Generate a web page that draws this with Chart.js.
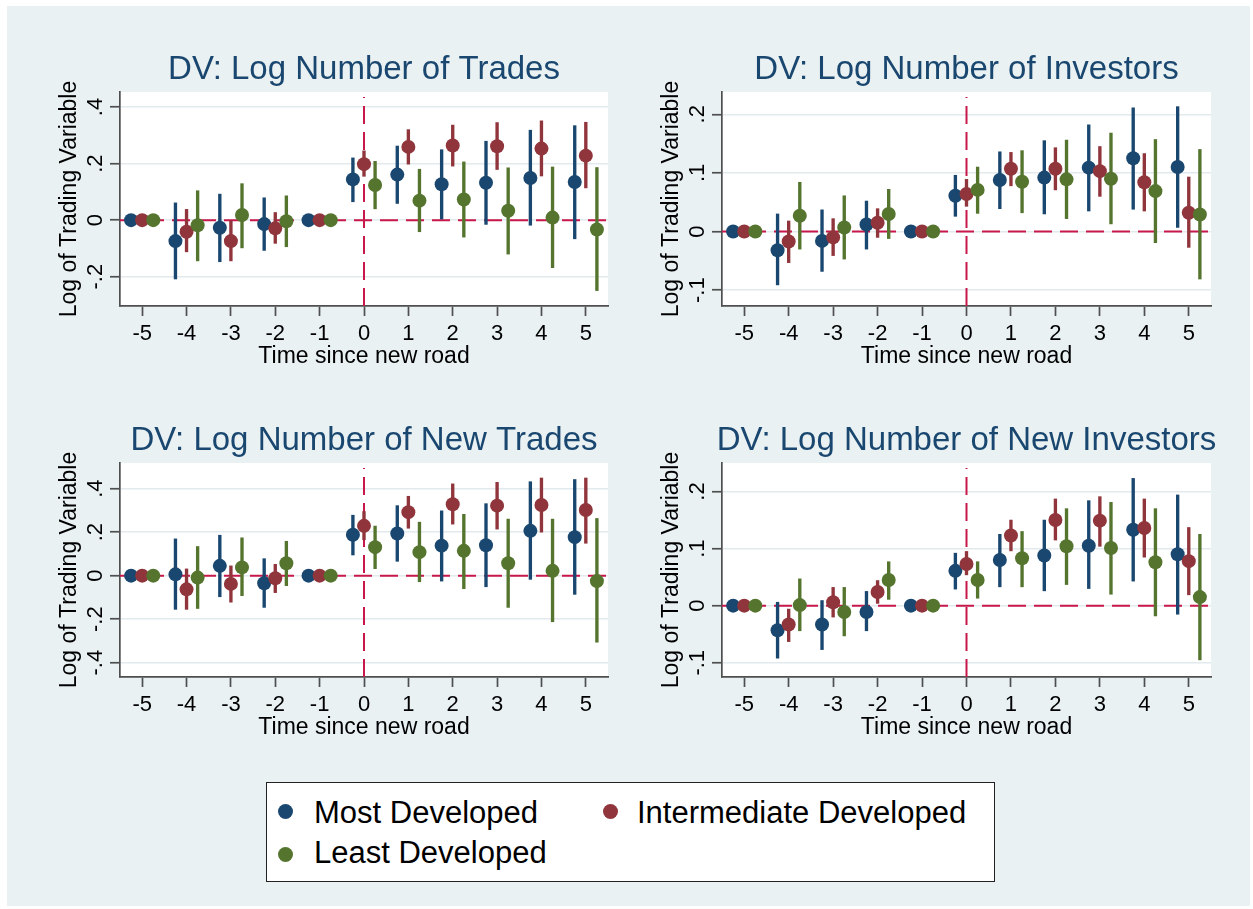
<!DOCTYPE html>
<html>
<head>
<meta charset="utf-8">
<script src="https://cdn.jsdelivr.net/npm/chart.js@4.4.1/dist/chart.umd.min.js"></script>
<style>
  html, body { margin: 0; padding: 0; background: #ffffff; }
  body { width: 1253px; height: 909px; position: relative; overflow: hidden;
         font-family: 'Liberation Sans', Arial, sans-serif; }
  #frame { position: absolute; left: 7px; top: 6px; width: 1243px; height: 900px; background: #e9f1f3; }
  canvas.panel { position: absolute; }
  #legend { position: absolute; left: 266px; top: 782px; width: 727px; height: 98px;
            border: 1.5px solid #222; background: #ffffff; }
  .lg-dot { position: absolute; width: 15px; height: 15px; border-radius: 50%; }
  .lg-text { position: absolute; font-size: 31px; line-height: 31px; color: #000; white-space: nowrap; }
</style>
</head>
<body>
<div id="frame"></div>
<canvas id="pTrades" class="panel"></canvas>
<canvas id="pInvestors" class="panel"></canvas>
<canvas id="pNewTrades" class="panel"></canvas>
<canvas id="pNewInvestors" class="panel"></canvas>
<div id="legend"></div>

<script>
// ---- event time and tick labels ----
const periods = [-5, -4, -3, -2, -1, 0, 1, 2, 3, 4, 5];
const xTickValues = [-5, -4, -3, -2, -1, 0, 1, 2, 3, 4, 5];
const seriesNames = ['Most Developed', 'Intermediate Developed', 'Least Developed'];

const tradesTicks = [-0.2, 0, 0.2, 0.4];
const investorsTicks = [-0.1, 0, 0.1, 0.2];
const newTradesTicks = [-0.4, -0.2, 0, 0.2, 0.4];
const newInvestorsTicks = [-0.1, 0, 0.1, 0.2];

// ---- DV: Log Number of Trades ----
const tradesMost      = [0, -0.074, -0.027, -0.014, 0, 0.144, 0.161, 0.127, 0.132, 0.149, 0.135];
const tradesMostLow   = [null, -0.208, -0.147, -0.107, null, 0.065, 0.059, 0.004, -0.015, -0.018, -0.066];
const tradesMostHigh  = [null, 0.061, 0.092, 0.079, null, 0.220, 0.262, 0.249, 0.279, 0.318, 0.334];
const tradesInter     = [0, -0.041, -0.074, -0.029, 0, 0.198, 0.259, 0.264, 0.261, 0.253, 0.228];
const tradesInterLow  = [null, -0.112, -0.144, -0.082, null, 0.155, 0.198, 0.191, 0.179, 0.156, 0.114];
const tradesInterHigh = [null, 0.038, 0.000, 0.027, null, 0.245, 0.320, 0.336, 0.345, 0.351, 0.346];
const tradesLeast     = [0, -0.018, 0.018, -0.004, 0, 0.124, 0.069, 0.073, 0.033, 0.009, -0.033];
const tradesLeastLow  = [null, -0.144, -0.098, -0.094, null, 0.040, -0.041, -0.060, -0.120, -0.168, -0.249];
const tradesLeastHigh = [null, 0.104, 0.129, 0.086, null, 0.208, 0.180, 0.206, 0.185, 0.188, 0.186];

// ---- DV: Log Number of Investors ----
const investorsMost      = [0, -0.032, -0.016, 0.012, 0, 0.061, 0.088, 0.092, 0.109, 0.125, 0.110];
const investorsMostLow   = [null, -0.091, -0.068, -0.030, null, 0.026, 0.039, 0.030, 0.035, 0.038, 0.007];
const investorsMostHigh  = [null, 0.030, 0.037, 0.052, null, 0.096, 0.136, 0.155, 0.182, 0.211, 0.213];
const investorsInter     = [0, -0.017, -0.010, 0.015, 0, 0.064, 0.107, 0.107, 0.103, 0.084, 0.032];
const investorsInterLow  = [null, -0.053, -0.041, -0.010, null, 0.043, 0.078, 0.071, 0.060, 0.035, -0.027];
const investorsInterHigh = [null, 0.018, 0.022, 0.039, null, 0.089, 0.135, 0.143, 0.145, 0.133, 0.093];
const investorsLeast     = [0, 0.027, 0.007, 0.030, 0, 0.071, 0.085, 0.089, 0.090, 0.069, 0.029];
const investorsLeastLow  = [null, -0.030, -0.047, -0.012, null, 0.031, 0.032, 0.022, 0.013, -0.019, -0.081];
const investorsLeastHigh = [null, 0.084, 0.061, 0.072, null, 0.110, 0.138, 0.156, 0.168, 0.157, 0.140];

// ---- DV: Log Number of New Trades ----
const newTradesMost      = [0, 0.006, 0.045, -0.035, 0, 0.188, 0.194, 0.138, 0.140, 0.206, 0.177];
const newTradesMostLow   = [null, -0.155, -0.097, -0.146, null, 0.095, 0.066, -0.025, -0.051, -0.017, -0.086];
const newTradesMostHigh  = [null, 0.169, 0.186, 0.078, null, 0.278, 0.322, 0.298, 0.331, 0.432, 0.442];
const newTradesInter     = [0, -0.063, -0.038, -0.012, 0, 0.229, 0.292, 0.328, 0.322, 0.325, 0.302];
const newTradesInterLow  = [null, -0.155, -0.122, -0.078, null, 0.165, 0.218, 0.237, 0.214, 0.200, 0.149];
const newTradesInterHigh = [null, 0.031, 0.045, 0.052, null, 0.295, 0.365, 0.422, 0.429, 0.449, 0.449];
const newTradesLeast     = [0, -0.009, 0.038, 0.057, 0, 0.131, 0.108, 0.114, 0.057, 0.022, -0.025];
const newTradesLeastLow  = [null, -0.151, -0.092, -0.046, null, 0.032, -0.028, -0.060, -0.146, -0.212, -0.306];
const newTradesLeastHigh = [null, 0.134, 0.174, 0.158, null, 0.228, 0.246, 0.282, 0.260, 0.260, 0.263];

// ---- DV: Log Number of New Investors ----
const newInvestorsMost      = [0, -0.043, -0.033, -0.011, 0, 0.061, 0.080, 0.088, 0.105, 0.133, 0.090];
const newInvestorsMostLow   = [null, -0.092, -0.077, -0.044, null, 0.029, 0.033, 0.026, 0.030, 0.043, -0.015];
const newInvestorsMostHigh  = [null, 0.006, 0.009, 0.025, null, 0.092, 0.125, 0.150, 0.184, 0.223, 0.194];
const newInvestorsInter     = [0, -0.033, 0.006, 0.024, 0, 0.073, 0.123, 0.150, 0.149, 0.136, 0.078];
const newInvestorsInterLow  = [null, -0.063, -0.020, 0.004, null, 0.054, 0.096, 0.115, 0.104, 0.085, 0.019];
const newInvestorsInterHigh = [null, -0.006, 0.032, 0.044, null, 0.095, 0.150, 0.187, 0.191, 0.187, 0.137];
const newInvestorsLeast     = [0, 0.001, -0.011, 0.045, 0, 0.045, 0.083, 0.104, 0.101, 0.076, 0.015];
const newInvestorsLeastLow  = [null, -0.044, -0.053, 0.011, null, 0.013, 0.033, 0.037, 0.020, -0.018, -0.095];
const newInvestorsLeastHigh = [null, 0.047, 0.032, 0.077, null, 0.077, 0.130, 0.170, 0.181, 0.170, 0.125];

// ---- styling ----
const FONT = "'Liberation Sans', Arial, sans-serif";
const COLORS = ['#1a476f', '#90353b', '#55752f'];
const DODGE = [-0.25, 0, 0.25];      // side-by-side placement of the three groups
const REF_COLOR = '#c8174a';
const AXIS_COLOR = '#4f4f4f';
const GRID_COLOR = '#e2eaed';
const TICK_PX = 22;

// Stata-style number labels: ".2", "-.4", "0"
function stataLabel(v) {
  if (Math.abs(v) < 1e-9) return '0';
  const s = String(Math.round(v * 100) / 100);
  return s.replace(/^(-?)0\./, '$1.');
}

const measureCtx = document.createElement('canvas').getContext('2d');
function textWidth(str, px) {
  measureCtx.font = px + 'px ' + FONT;
  return measureCtx.measureText(str).width;
}

// white plot region
const plotBg = {
  id: 'plotBg',
  beforeDraw(chart) {
    const { ctx, chartArea: a } = chart;
    ctx.save();
    ctx.fillStyle = '#ffffff';
    ctx.fillRect(a.left, a.top, a.width, a.height);
    ctx.restore();
  }
};

// dashed reference lines at y = 0 and at the event date
const refLines = {
  id: 'refLines',
  beforeDatasetsDraw(chart) {
    const { ctx, chartArea: a, scales: { x, y } } = chart;
    const px = x.getPixelForValue(0);
    const py = y.getPixelForValue(0);
    ctx.save();
    ctx.strokeStyle = REF_COLOR;
    ctx.lineWidth = 2;
    ctx.setLineDash([18, 8]);
    ctx.beginPath();
    ctx.moveTo(a.left, py);
    ctx.lineTo(a.right, py);
    ctx.stroke();
    ctx.beginPath();
    ctx.moveTo(px, a.bottom);
    ctx.lineTo(px, a.top + 5);
    ctx.stroke();
    ctx.restore();
  }
};

// panel heading centred over the plot region
const panelTitle = {
  id: 'panelTitle',
  afterDraw(chart, args, opts) {
    const { ctx, chartArea: a } = chart;
    ctx.save();
    ctx.font = '33px ' + FONT;
    ctx.fillStyle = '#1a476f';
    ctx.textAlign = 'center';
    ctx.textBaseline = 'middle';
    ctx.fillText(opts.text, (a.left + a.right) / 2, a.top - 22);
    ctx.restore();
  }
};

function makePanel(id, plot, title, yRange, yTicks, series) {
  const AXIS_W = 90, TOP_PAD = 52, X_AXIS_H = 75, RIGHT_PAD = 30;
  const canvas = document.getElementById(id);
  const w = (plot.right - plot.left) + AXIS_W + RIGHT_PAD;
  const h = (plot.bottom - plot.top) + TOP_PAD + X_AXIS_H;
  canvas.width = w; canvas.height = h;
  canvas.style.width = w + 'px'; canvas.style.height = h + 'px';
  canvas.style.left = (plot.left - AXIS_W) + 'px';
  canvas.style.top = (plot.top - TOP_PAD) + 'px';

  const widest = Math.max(...yTicks.map(v => textWidth(stataLabel(v), TICK_PX)));

  const datasets = [];
  series.forEach((s, k) => {
    const ci = [];
    periods.forEach((p, i) => {
      if (s.low[i] !== null) ci.push({ x: p + DODGE[k], y: [s.low[i], s.high[i]] });
    });
    datasets.push({
      type: 'bar', label: seriesNames[k] + ' 95% CI', data: ci,
      backgroundColor: COLORS[k], borderWidth: 0,
      barThickness: 2.7, maxBarThickness: 2.7, grouped: false,
      order: 2 * (2 - k) + 1
    });
    datasets.push({
      type: 'scatter', label: seriesNames[k],
      data: periods.map((p, i) => ({ x: p + DODGE[k], y: s.coef[i] })),
      pointRadius: 7, pointHoverRadius: 7,
      pointBackgroundColor: COLORS[k], pointBorderColor: COLORS[k], pointBorderWidth: 0,
      showLine: false, order: 2 * (2 - k)
    });
  });

  return new Chart(canvas, {
    type: 'scatter',
    data: { datasets },
    plugins: [plotBg, refLines, panelTitle],
    options: {
      responsive: false, animation: false, devicePixelRatio: 1,
      layout: { padding: { top: TOP_PAD, left: 0, right: RIGHT_PAD, bottom: 0 } },
      plugins: {
        legend: { display: false }, tooltip: { enabled: false }, title: { display: false },
        panelTitle: { text: title }
      },
      scales: {
        x: {
          type: 'linear', min: -5.5, max: 5.5, offset: false,
          afterBuildTicks: s => { s.ticks = xTickValues.map(v => ({ value: v })); },
          afterFit: s => { s.height = X_AXIS_H; },
          ticks: {
            font: { family: FONT, size: TICK_PX, lineHeight: 1 }, color: '#000',
            padding: 7, maxRotation: 0, minRotation: 0, autoSkip: false,
            callback: v => String(v)
          },
          grid: { drawOnChartArea: false, offset: false, tickLength: 10, tickColor: AXIS_COLOR, tickWidth: 1.7 },
          border: { display: true, color: AXIS_COLOR, width: 1.7 },
          title: {
            display: true, text: 'Time since new road', color: '#000',
            font: { family: FONT, size: 23, lineHeight: 1 }, padding: { top: 0, bottom: 12.5 }
          }
        },
        y: {
          type: 'linear', min: yRange[0], max: yRange[1],
          afterBuildTicks: s => { s.ticks = yTicks.map(v => ({ value: v })); },
          afterFit: s => { s.width = AXIS_W; },
          ticks: {
            font: { family: FONT, size: TICK_PX, lineHeight: 1 }, color: '#000',
            minRotation: 90, maxRotation: 90, crossAlign: 'center',
            padding: 14 - widest / 2, autoSkip: false,
            callback: v => stataLabel(v)
          },
          grid: { color: GRID_COLOR, lineWidth: 1.5, tickLength: 10, tickColor: AXIS_COLOR, tickWidth: 1.7 },
          border: { display: true, color: AXIS_COLOR, width: 1.7 },
          title: {
            display: true, text: 'Log of Trading Variable', color: '#000',
            font: { family: FONT, size: 23, lineHeight: 1 }, padding: { top: 28, bottom: 0 }
          }
        }
      }
    }
  });
}

makePanel('pTrades', { left: 120, right: 608, top: 92, bottom: 306 },
  'DV: Log Number of Trades', [-0.3035, 0.453], tradesTicks, [
    { coef: tradesMost, low: tradesMostLow, high: tradesMostHigh },
    { coef: tradesInter, low: tradesInterLow, high: tradesInterHigh },
    { coef: tradesLeast, low: tradesLeastLow, high: tradesLeastHigh }
  ]);

makePanel('pInvestors', { left: 722, right: 1211, top: 92, bottom: 306 },
  'DV: Log Number of Investors', [-0.127, 0.238], investorsTicks, [
    { coef: investorsMost, low: investorsMostLow, high: investorsMostHigh },
    { coef: investorsInter, low: investorsInterLow, high: investorsInterHigh },
    { coef: investorsLeast, low: investorsLeastLow, high: investorsLeastHigh }
  ]);

makePanel('pNewTrades', { left: 120, right: 608, top: 463, bottom: 677 },
  'DV: Log Number of New Trades', [-0.466, 0.518], newTradesTicks, [
    { coef: newTradesMost, low: newTradesMostLow, high: newTradesMostHigh },
    { coef: newTradesInter, low: newTradesInterLow, high: newTradesInterHigh },
    { coef: newTradesLeast, low: newTradesLeastLow, high: newTradesLeastHigh }
  ]);

makePanel('pNewInvestors', { left: 722, right: 1211, top: 463, bottom: 677 },
  'DV: Log Number of New Investors', [-0.125, 0.25], newInvestorsTicks, [
    { coef: newInvestorsMost, low: newInvestorsMostLow, high: newInvestorsMostHigh },
    { coef: newInvestorsInter, low: newInvestorsInterLow, high: newInvestorsInterHigh },
    { coef: newInvestorsLeast, low: newInvestorsLeastLow, high: newInvestorsLeastHigh }
  ]);

// ---- shared legend ----
const legendItems = [
  { dotX: 278, dotY: 804, textX: 314, textY: 797 },
  { dotX: 603, dotY: 804, textX: 637, textY: 797 },
  { dotX: 278, dotY: 847, textX: 314, textY: 837 }
];
legendItems.forEach((pos, k) => {
  const dot = document.createElement('div');
  dot.className = 'lg-dot';
  dot.style.left = pos.dotX + 'px';
  dot.style.top = pos.dotY + 'px';
  dot.style.background = COLORS[k];
  document.body.appendChild(dot);
  const txt = document.createElement('div');
  txt.className = 'lg-text';
  txt.style.left = pos.textX + 'px';
  txt.style.top = pos.textY + 'px';
  txt.textContent = seriesNames[k];
  document.body.appendChild(txt);
});
</script>
</body>
</html>
